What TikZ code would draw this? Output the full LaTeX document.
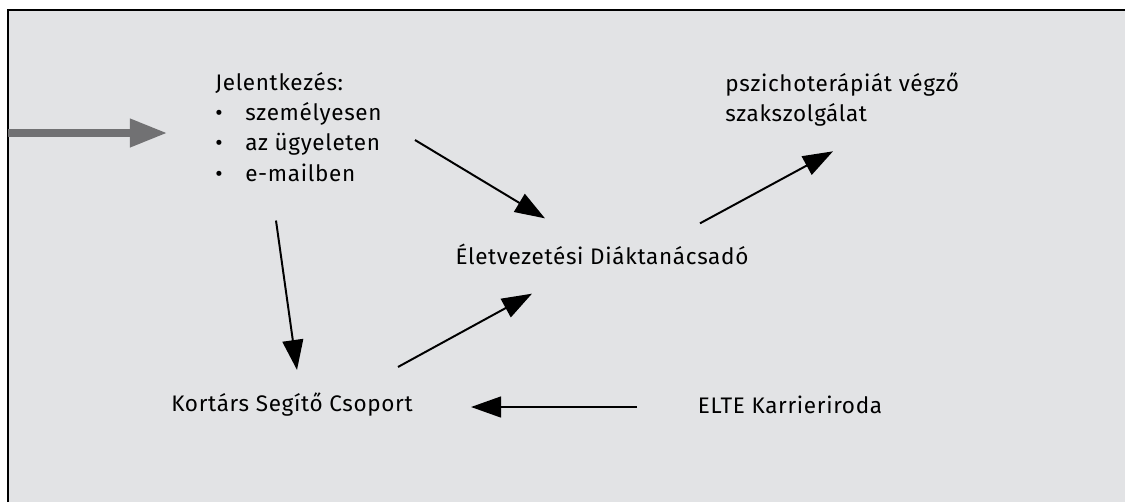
\documentclass[tikz,border=0pt]{standalone}
\usepackage{fontspec}
\setmainfont{Fira Sans}[LetterSpace=3]
\usetikzlibrary{positioning,calc,arrows.meta}
\tikzset{font=\fontsize{16}{21.5}\selectfont}
\definecolor{panel}{HTML}{E2E3E5}
\definecolor{inarrow}{HTML}{717173}

\begin{document}
\begin{tikzpicture}[x=0.025cm, y=-0.025cm]
	\tikzstyle{every node}=[align=left, inner sep=0pt]
	\tikzstyle{arr}=[-{Triangle[length=7.5mm, width=5.2mm]}, line width=1.4pt]
	\useasboundingbox (0,0) rectangle (1125,502);
	\fill[panel] (8,10) rectangle (1125,502);
	\draw[line width=1.4pt] (8,502) -- (8,10) -- (1125,10);

	\node[anchor=north west] (jel) at (215,72) {Jelentkezés:\\
		\makebox[0.75cm][l]{\textbullet}személyesen\\
		\makebox[0.75cm][l]{\textbullet}az ügyeleten\\
		\makebox[0.75cm][l]{\textbullet}e-mailben};
	\node (elet) at (602,254) {Életvezetési Diáktanácsadó};
	\node[anchor=north west] (pszi) at (725,72) {pszichoterápiát végző\\szakszolgálat};
	\node (kort) at (292,405) {Kortárs Segítő Csoport};
	\node (elte) at (790,405) {ELTE Karrieriroda};
	\coordinate (entry) at (8,133);

	\draw [-{Triangle[length=9.25mm, width=6.75mm]}, line width=5pt, inarrow] (entry) -- ($(jel.north west)+(-48,61)$);
	\draw [arr] ($(jel.north west)+(200,68)$) to ($(elet.north)+(-57,-25)$);
	\draw [arr] ($(jel.south west)+(61,39)$) to ($(kort.north)+(5,-23)$);
	\draw [arr] ($(elet.north)+(98,-20)$) to ($(pszi.south west)+(108,25)$);
	\draw [arr] ($(kort.north)+(106,-26)$) to ($(elet.south)+(-70,29)$);
	\draw [arr] ($(elte.center)+(-153,2)$) to ($(kort.center)+(179,2)$);
\end{tikzpicture}
\end{document}
